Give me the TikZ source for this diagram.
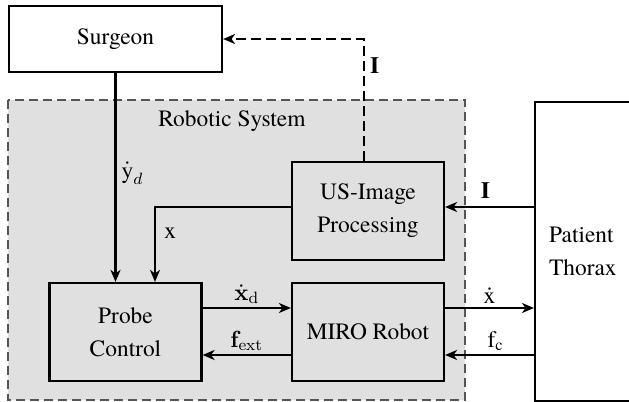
\documentclass[tikz,border=0pt]{standalone}
\RequirePackage{fix-cm}
\usepackage{amsmath}
\usepackage[no-math]{fontspec}
\setmainfont{TeX Gyre Termes}
\usetikzlibrary{arrows.meta}
\definecolor{sysfill}{RGB}{224,224,224}
\definecolor{sysline}{RGB}{85,85,85}
\begin{document}
\begin{tikzpicture}[x=0.5pt,y=-0.5pt,
  font=\fontsize{11.7}{16.5}\selectfont,
  box/.style={draw, line width=1.1pt, inner sep=0pt, align=center},
  block/.style={box, minimum width=76pt, minimum height=49pt},
  arr/.style={line width=1.1pt, -{Stealth[length=6pt,width=5pt,inset=1.8pt]}},
  lbl/.style={inner sep=0.5pt}]
\useasboundingbox (0,0) rectangle (629,402);
\fill[sysfill] (8,100) rectangle (465,400);
\draw[sysline, line width=0.6pt, dash pattern=on 4.5pt off 2.5pt] (8,100) rectangle (465,400);
\node (sys) at (232,121) {Robotic System};
\node[box, minimum width=106.5pt, minimum height=33pt] (surg) at (115.5,39) {Surgeon};
\node[block] (us) at (368,211) {US-Image\\Processing};
\node[block] (probe) at (125.5,332) {Probe\\Control};
\node[block] (miro) at (368,332) {MIRO Robot};
\node[box, anchor=north west, minimum width=53pt, minimum height=149.5pt,
      text width=39pt, align=left, inner xsep=7pt] (pat) at (534,101) {Patient\\Thorax};
% connectors
\draw[arr] (surg.south) -- (surg.south |- probe.north)
  node[pos=0.48, anchor=west, lbl, xshift=2pt] {$\dot{\text{y}}_d$};
\coordinate (ux) at ([yshift=2pt]us.west);
\coordinate (px) at ([xshift=14.75pt]probe.north);
\draw[arr] (ux) -| (px);
\node[anchor=west, lbl] (xl) at (163,233) {x};
\draw[arr, dash pattern=on 5pt off 2.5pt] ([xshift=-2pt]us.north) |- (surg.east)
  node[pos=0.39, anchor=west, lbl, xshift=2pt] {\textbf{I}};
\coordinate (ui) at ([yshift=2pt]us.east);
\draw[arr] (pat.west |- ui) -- (ui) node[midway, above, lbl, yshift=3pt, xshift=-2pt] {\textbf{I}};
\coordinate (pd) at ([yshift=12pt]probe.east);
\coordinate (pf) at ([yshift=-11.5pt]probe.east);
\draw[arr] (pd) -- (miro.west |- pd) node[midway, above, lbl, yshift=1pt] {$\dot{\mathbf{x}}_{\mathrm{d}}$};
\draw[arr] (miro.west |- pf) -- (pf) node[midway, above, lbl, yshift=1pt] {$\mathbf{f}_{\mathrm{ext}}$};
\draw[arr] (miro.east |- pd) -- (pat.west |- pd) node[midway, above, lbl, yshift=1pt] {$\dot{\text{x}}$};
\draw[arr] (pat.west |- pf) -- (miro.east |- pf) node[midway, above, lbl, xshift=3pt, yshift=1pt] {$\text{f}_{\text{c}}$};
\end{tikzpicture}
\end{document}
